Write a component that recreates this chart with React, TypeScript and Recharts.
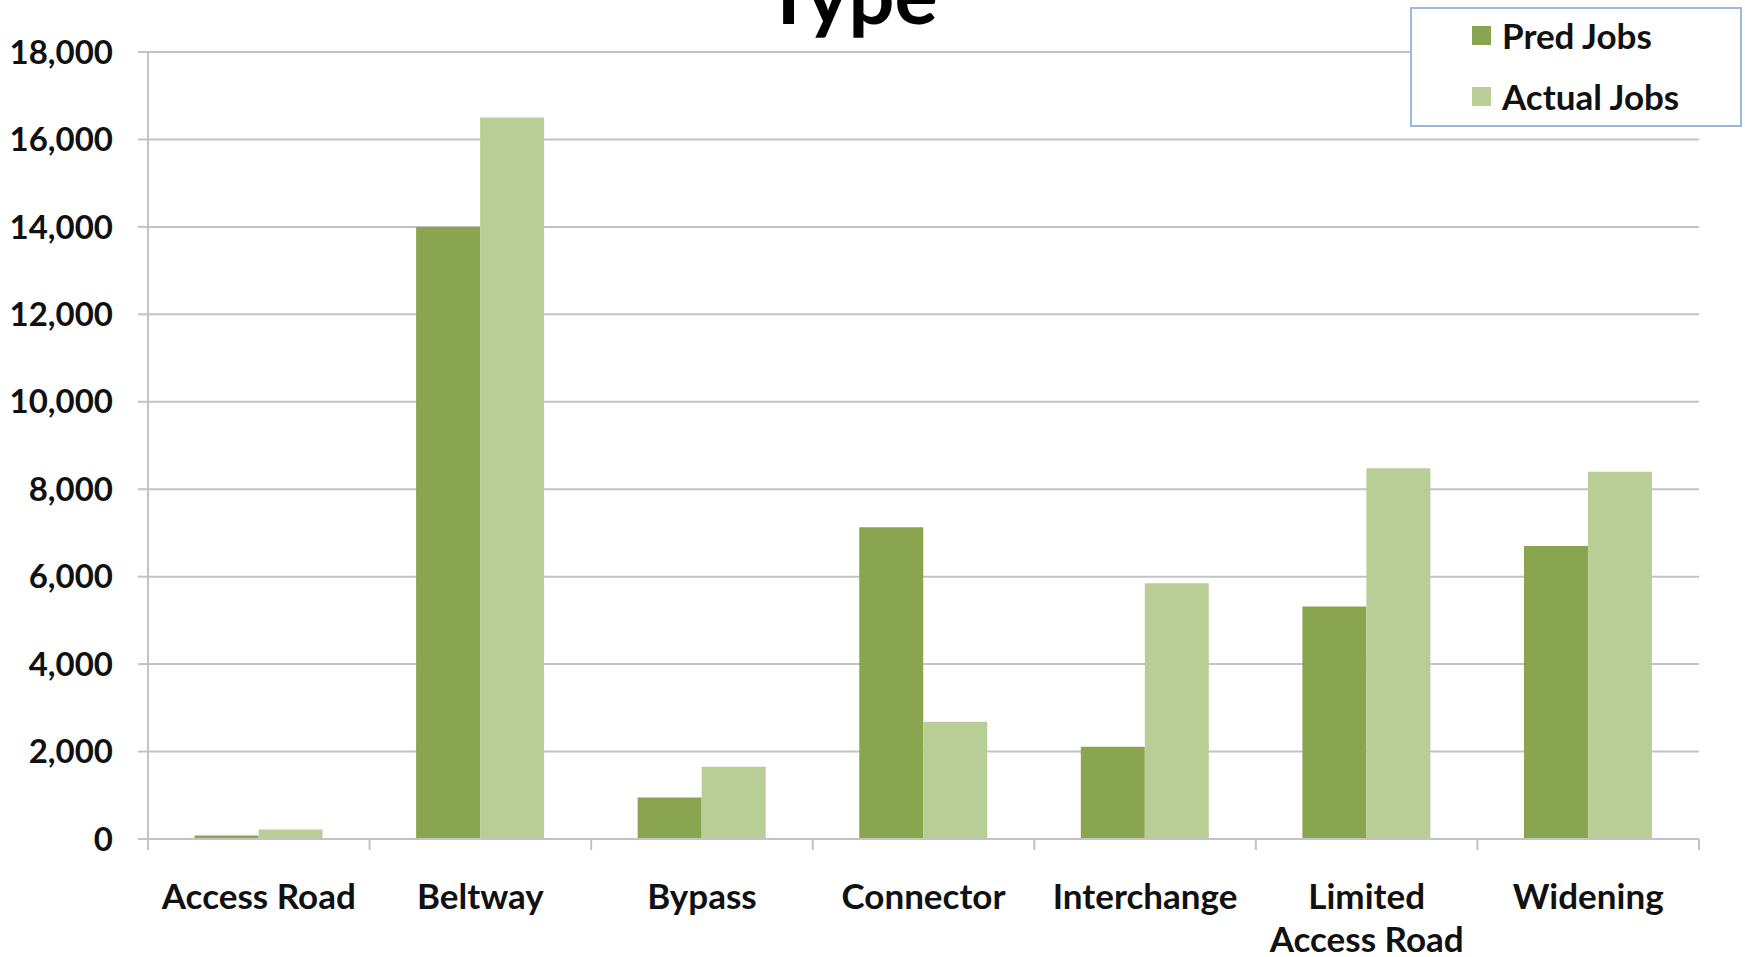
import React from "react";
import {
  BarChart,
  Bar,
  XAxis,
  YAxis,
  CartesianGrid,
} from "recharts";

const categories = [
  "Access Road",
  "Beltway",
  "Bypass",
  "Connector",
  "Interchange",
  "Limited Access Road",
  "Widening",
];
const predJobs = [80, 14000, 950, 7130, 2110, 5320, 6700];
const actualJobs = [220, 16500, 1650, 2680, 5850, 8480, 8400];
const yTicks = [0, 2000, 4000, 6000, 8000, 10000, 12000, 14000, 16000, 18000];

// labels that wrap onto two lines
const wrapped: Record<string, string[]> = {
  "Limited Access Road": ["Limited", "Access Road"],
};

const W = 1745;
const H = 957;
const MARGIN = { top: 52, right: 46, bottom: 0, left: 28 };
const Y_WIDTH = 120;
const X_HEIGHT = 118;
const FONT = "Lato, 'Open Sans', sans-serif";
const GRID = "#c3c3c3";
const PRED = "#8aa54f";
const ACTUAL = "#b9ce96";

const data = categories.map((name, i) => ({
  name,
  pred: predJobs[i],
  actual: actualJobs[i],
}));

const band = (W - MARGIN.left - MARGIN.right - Y_WIDTH) / categories.length;

function CategoryTick(props: any) {
  const { x, y, payload, index } = props;
  const lines = wrapped[payload.value] ?? [payload.value];
  const left = x - band / 2;
  return (
    <g>
      <line x1={left} y1={y} x2={left} y2={y + 11} stroke={GRID} strokeWidth={2} />
      {index === categories.length - 1 ? (
        <line x1={x + band / 2} y1={y} x2={x + band / 2} y2={y + 11} stroke={GRID} strokeWidth={2} />
      ) : null}
      <text
        x={x}
        y={y + 70}
        textAnchor="middle"
        fontFamily={FONT}
        fontWeight={700}
        fontSize={35}
        fill="#111"
      >
        {lines.map((l: string, i: number) => (
          <tspan key={l} x={x} dy={i === 0 ? 0 : 43}>
            {l}
          </tspan>
        ))}
      </text>
    </g>
  );
}

function LegendBox() {
  const items = [
    { label: "Pred Jobs", color: PRED },
    { label: "Actual Jobs", color: ACTUAL },
  ];
  return (
    <div
      style={{
        position: "absolute",
        left: 1410,
        top: 7,
        width: 328,
        height: 116,
        border: "2px solid #9db8dc",
        background: "#fff",
        fontFamily: FONT,
        fontWeight: 700,
        fontSize: 35,
        color: "#111",
      }}
    >
      {items.map((it, i) => (
        <div
          key={it.label}
          style={{
            position: "absolute",
            left: 60,
            top: 6 + i * 61,
            display: "flex",
            alignItems: "center",
            lineHeight: "40px",
            whiteSpace: "nowrap",
          }}
        >
          <span
            style={{
              display: "inline-block",
              width: 19,
              height: 19,
              background: it.color,
              marginRight: 11,
            }}
          />
          {it.label}
        </div>
      ))}
    </div>
  );
}

export default function App() {
  return (
    <div
      style={{
        position: "absolute",
        left: 0,
        top: 0,
        width: W,
        height: H,
        overflow: "hidden",
        background: "#fff",
      }}
    >
      <BarChart
        width={W}
        height={H}
        data={data}
        margin={MARGIN}
        barCategoryGap="21%"
        barGap={0}
      >
        <CartesianGrid vertical={false} stroke={GRID} strokeWidth={2} />
        <XAxis
          dataKey="name"
          height={X_HEIGHT}
          interval={0}
          tickSize={0}
          tickMargin={0}
          tickLine={false}
          axisLine={{ stroke: GRID, strokeWidth: 2 }}
          tick={<CategoryTick />}
        />
        <YAxis
          width={Y_WIDTH}
          domain={[0, 18000]}
          ticks={yTicks}
          interval={0}
          tickSize={10}
          tickMargin={25}
          tickLine={{ stroke: GRID, strokeWidth: 2 }}
          axisLine={{ stroke: GRID, strokeWidth: 2 }}
          tickFormatter={(v: number) => v.toLocaleString("en-US")}
          tick={{ fontFamily: FONT, fontWeight: 700, fontSize: 33, fill: "#111" }}
        />
        <Bar dataKey="pred" name="Pred Jobs" fill={PRED} isAnimationActive={false} />
        <Bar dataKey="actual" name="Actual Jobs" fill={ACTUAL} isAnimationActive={false} />
      </BarChart>
      <LegendBox />
      <svg
        width={W}
        height={H}
        style={{ position: "absolute", left: 0, top: 0, pointerEvents: "none" }}
      >
        <text
          x={851}
          y={24}
          textAnchor="middle"
          fontFamily={FONT}
          fontWeight={700}
          fontSize={81}
          fill="#000"
        >
          Type
        </text>
      </svg>
    </div>
  );
}
